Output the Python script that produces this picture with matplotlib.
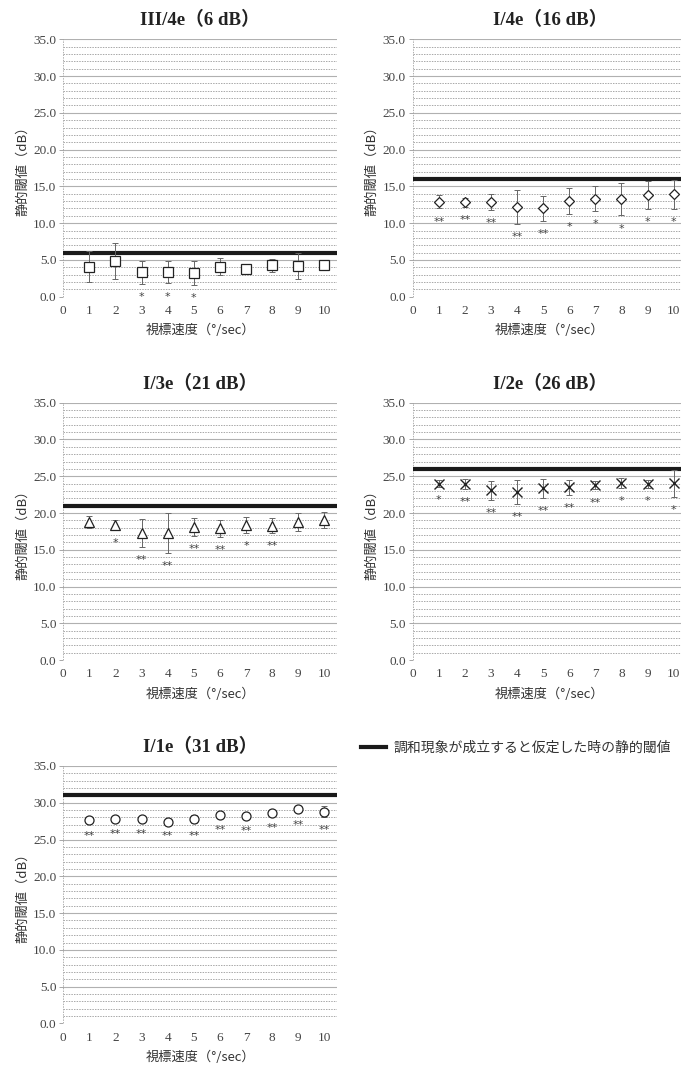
import matplotlib
matplotlib.use("Agg")
import matplotlib.pyplot as plt
import numpy as np

plt.rcParams['font.family'] = ['Liberation Serif', 'Noto Sans CJK JP', 'DejaVu Sans']

speeds = [1, 2, 3, 4, 5, 6, 7, 8, 9, 10]
x_ticks = [0, 1, 2, 3, 4, 5, 6, 7, 8, 9, 10]
y_ticks = [0, 5, 10, 15, 20, 25, 30, 35]

titles = ["III/4e（6 dB）", "I/4e（16 dB）", "I/3e（21 dB）", "I/2e（26 dB）", "I/1e（31 dB）"]
thresholds = [6, 16, 21, 26, 31]
markers = ['s', 'D', '^', 'x', 'o']

mean_iii4e = [4.1, 4.85, 3.3, 3.3, 3.2, 4.05, 3.75, 4.25, 4.2, 4.3]
err_iii4e = [2.1, 2.5, 1.6, 1.5, 1.6, 1.15, 0.7, 0.9, 1.8, 0.3]
sig_iii4e = ["", "", "*", "*", "*", "", "", "", "", ""]

mean_i4e = [12.9, 12.85, 12.85, 12.15, 12.05, 13.0, 13.3, 13.25, 13.85, 13.9]
err_i4e = [0.9, 0.6, 1.1, 2.3, 1.7, 1.8, 1.7, 2.2, 1.9, 2.0]
sig_i4e = ["**", "**", "**", "**", "**", "*", "*", "*", "*", "*"]

mean_i3e = [18.8, 18.35, 17.3, 17.3, 18.1, 17.9, 18.4, 18.3, 18.8, 19.0]
err_i3e = [0.85, 0.7, 1.9, 2.7, 1.2, 1.15, 1.05, 1.0, 1.25, 1.1]
sig_i3e = ["", "*", "**", "**", "**", "**", "*", "**", "", ""]

mean_i2e = [24.0, 23.95, 23.1, 22.85, 23.35, 23.5, 23.75, 24.05, 24.0, 24.05]
err_i2e = [0.45, 0.7, 1.3, 1.65, 1.25, 1.0, 0.55, 0.7, 0.55, 1.85]
sig_i2e = ["*", "**", "**", "**", "**", "**", "**", "*", "*", "*"]

mean_i1e = [27.6, 27.8, 27.8, 27.4, 27.8, 28.3, 28.2, 28.6, 29.1, 28.8]
err_i1e = [0.4, 0.3, 0.3, 0.2, 0.5, 0.25, 0.3, 0.3, 0.4, 0.7]
sig_i1e = ["**", "**", "**", "**", "**", "**", "**", "**", "**", "**"]

means = [mean_iii4e, mean_i4e, mean_i3e, mean_i2e, mean_i1e]
errs = [err_iii4e, err_i4e, err_i3e, err_i2e, err_i1e]
sigs = [sig_iii4e, sig_i4e, sig_i3e, sig_i2e, sig_i1e]

legend_label = "調和現象が成立すると仮定した時の静的閾値"
xlabel = "視標速度（°/sec）"
ylabel = "静的閾値（dB）"

W, H = 681, 1070
fig = plt.figure(figsize=(W / 100, H / 100), dpi=100)

lefts = [63.3, 412.7]
tops = [39.3, 402.7, 766.0]
aw, ah = 274.0, 257.4

positions = [(lefts[0], tops[0]), (lefts[1], tops[0]),
             (lefts[0], tops[1]), (lefts[1], tops[1]),
             (lefts[0], tops[2])]

tick_color = '#444444'
handle = None
for i, (lx, ty) in enumerate(positions):
    ax = fig.add_axes([lx / W, 1 - (ty + ah) / H, aw / W, ah / H])
    ax.set_xlim(0, 10.5)
    ax.set_ylim(0, 35)
    for s in ax.spines.values():
        s.set_visible(False)
    for v in np.arange(0, 36, 1):
        if v % 5 == 0 and v != 0:
            ax.axhline(v, color='#b0b0b0', lw=0.8, ls='-', zorder=0)
        else:
            ax.axhline(v, color='#a8a8a8', lw=0.7, ls=(0, (1.5, 1.2)), zorder=0)
    ax.axvline(0, color='#b0b0b0', lw=0.7, ls=(0, (1.5, 1.2)), zorder=0)

    ax.set_xticks(x_ticks)
    ax.set_yticks(y_ticks)
    ax.set_yticklabels([f"{v:.1f}" for v in y_ticks])
    ax.tick_params(axis='y', length=3, width=0.6, color='#999999', labelsize=9.5,
                   labelcolor=tick_color, pad=2)
    ax.tick_params(axis='x', length=0, labelsize=9.5, labelcolor=tick_color, pad=6)

    h = ax.axhline(thresholds[i], color='#1a1a1a', lw=3.0, zorder=2)
    if handle is None:
        handle = h

    mk = markers[i]
    ms = {'s': 7, 'D': 5.5, '^': 6.5, 'x': 7, 'o': 6.5}[mk]
    ax.errorbar(speeds, means[i], yerr=errs[i], fmt='none', ecolor='#666666',
                elinewidth=0.7, capsize=2.5, capthick=0.7, zorder=3)
    if mk == 'x':
        ax.plot(speeds, means[i], ls='none', marker=mk, ms=ms, mew=1.0,
                color='#222222', zorder=4)
    else:
        ax.plot(speeds, means[i], ls='none', marker=mk, ms=ms, mew=0.9,
                mfc='white', mec='#222222', zorder=4)

    for xv, m, e, s in zip(speeds, means[i], errs[i], sigs[i]):
        if s:
            ax.text(xv, m - e - 1.1, s, ha='center', va='top', fontsize=8,
                    color='#444444', family=['DejaVu Sans'], zorder=5)

    ax.set_title(titles[i], fontsize=13.5, fontweight='bold', color='#222222', pad=10,
                 family=['Liberation Serif', 'Noto Sans CJK JP'])
    ax.set_xlabel(xlabel, fontsize=9.5, color='#333333', labelpad=5,
                  family=['Noto Sans CJK JP', 'DejaVu Sans'])
    ax.set_ylabel(ylabel, fontsize=9.5, color='#333333', labelpad=3,
                  family=['Noto Sans CJK JP', 'DejaVu Sans'])

fig.legend([handle], [legend_label], loc='center left',
           bbox_to_anchor=(355 / W, 1 - 748 / H), frameon=False,
           handlelength=1.8, handletextpad=0.6, borderaxespad=0,
           prop={'family': ['Noto Sans CJK JP'], 'size': 10},
           labelcolor='#333333')

fig.savefig("out.png", dpi=100)
